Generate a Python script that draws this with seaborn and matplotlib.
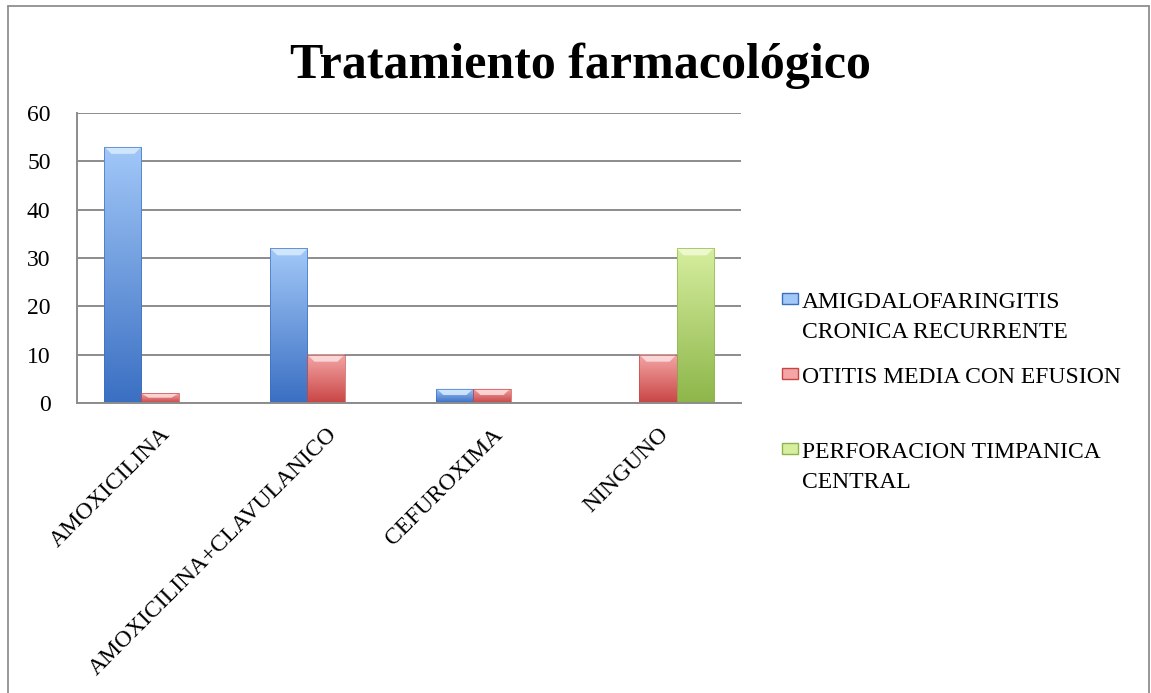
import numpy as np
import pandas as pd
import matplotlib
matplotlib.use("Agg")
import matplotlib.pyplot as plt
import matplotlib.colors as mcolors
from matplotlib.colors import LinearSegmentedColormap
from matplotlib.patches import Polygon, Rectangle
from matplotlib.lines import Line2D
import seaborn as sns

# Datos
categorias = ["AMOXICILINA", "AMOXICILINA+CLAVULANICO", "CEFUROXIMA", "NINGUNO"]
diagnosticos = ["AMIGDALOFARINGITIS\nCRONICA RECURRENTE",
                "OTITIS MEDIA CON EFUSION",
                "PERFORACION TIMPANICA\nCENTRAL"]
amigdalo = [53, 32, 3, 0]
otitis = [2, 10, 3, 10]
perforacion = [0, 0, 0, 32]
yticks = [0, 10, 20, 30, 40, 50, 60]

colores = ["#4f81bd", "#c0504d", "#9bbb59"]
# (abajo, arriba, bisel) para el degradado de cada serie
degradados = {
    "#4f81bd": ("#3a6fc2", "#a2c8f8", "#d8ecff"),
    "#c0504d": ("#c94545", "#f4a6a6", "#fde0e0"),
    "#9bbb59": ("#8db64a", "#d6ee9e", "#f2fbd9"),
}

W, H = 1151, 693


def px(x, y):
    """pixel (desde arriba-izquierda) -> fracción de figura"""
    return x / W, 1 - y / H


df = pd.DataFrame({
    "tratamiento": categorias * 3,
    "casos": amigdalo + otitis + perforacion,
    "diagnostico": [d for d in diagnosticos for _ in categorias],
})

sns.set_theme(style="white")
plt.rcParams["font.family"] = ["Liberation Serif", "DejaVu Serif"]

fig = plt.figure(figsize=(W / 100, H / 100), dpi=100)
x0, y0 = px(77, 403)
x1, y1 = px(741, 113)
ax = fig.add_axes([x0, y0, x1 - x0, y1 - y0])

sns.barplot(data=df, x="tratamiento", y="casos", hue="diagnostico",
            palette=colores, width=0.67, saturation=1, legend=False,
            linewidth=0, ax=ax, zorder=3)

ax.set_xlim(-0.5, 3.5)
ax.set_ylim(0, 60)

# degradado + bisel tipo Excel
px_x = (741 - 77) / 4.0
px_y = (403 - 113) / 60.0
bevel_dx = 7 / px_x
bevel_dy = 7 / px_y
grad = np.linspace(0, 1, 256).reshape(-1, 1)
for patch in list(ax.patches):
    h = patch.get_height()
    if h <= 0:
        continue
    bx, by, bw = patch.get_x(), patch.get_y(), patch.get_width()
    key = mcolors.to_hex(patch.get_facecolor())
    bottom, top, shine = degradados[key]
    cmap = LinearSegmentedColormap.from_list("g", [bottom, top])
    im = ax.imshow(grad, extent=[bx, bx + bw, by, by + h], origin="lower",
                   cmap=cmap, aspect="auto", zorder=3.5)
    im.set_clip_path(patch)
    dy = min(bevel_dy, h * 0.45)
    ax.add_patch(Polygon([(bx, by + h), (bx + bw, by + h),
                          (bx + bw - bevel_dx, by + h - dy),
                          (bx + bevel_dx, by + h - dy)],
                         closed=True, facecolor=shine, edgecolor="none",
                         alpha=0.85, zorder=3.6))
    ax.add_patch(Rectangle((bx, by), bw, h, fill=False,
                           edgecolor=bottom, linewidth=0.6, alpha=0.8, zorder=3.7))

ax.set_xlim(-0.5, 3.5)
ax.set_ylim(0, 60)

ax.set_axisbelow(True)
ax.yaxis.grid(True, color="#8c8c8c", linewidth=1.4)
ax.xaxis.grid(False)
for s in ["top", "right"]:
    ax.spines[s].set_visible(False)
for s in ["left", "bottom"]:
    ax.spines[s].set_color("#8c8c8c")
    ax.spines[s].set_linewidth(1.4)
    ax.spines[s].set_zorder(5)

ax.set_yticks(yticks)
ax.set_yticklabels([str(v) for v in yticks])
ax.tick_params(axis="y", length=0, pad=19, labelsize=17, labelcolor="black")
ax.tick_params(axis="x", length=0, pad=15, labelsize=17, labelcolor="black")
ax.set_xticks(range(len(categorias)))
ax.set_xticklabels(categorias, rotation=45, ha="right", va="top",
                   rotation_mode="anchor")
ax.set_xlabel("")
ax.set_ylabel("")

# titulo
tx, ty = px(580, 78)
fig.text(tx, ty, "Tratamiento farmacológico", ha="center", va="baseline",
         fontsize=36, fontweight="bold", color="black")

# leyenda manual (marcador alineado con la primera línea)
leyenda_y = [308, 383, 458]
interlinea = 30
for color, nombre, base in zip(colores, diagnosticos, leyenda_y):
    mx, my = px(782, base - 4)
    mw = 16 / W
    mh = 11 / H
    fig.patches.append(Rectangle((mx, my), mw, mh, transform=fig.transFigure,
                                 facecolor=degradados[color][1],
                                 edgecolor=degradados[color][0], linewidth=1))
    for i, linea in enumerate(nombre.split("\n")):
        lx, ly = px(802, base + i * interlinea)
        fig.text(lx, ly, linea, ha="left", va="baseline", fontsize=17,
                 color="black")

# borde del área del gráfico
col_borde = "#8f8f8f"
fig.lines.append(Line2D([8 / W, 8 / W], [0, 1 - 6 / H], transform=fig.transFigure,
                        color=col_borde, linewidth=1.3))
fig.lines.append(Line2D([8 / W, 1149 / W], [1 - 6 / H, 1 - 6 / H],
                        transform=fig.transFigure, color=col_borde, linewidth=1.3))
fig.lines.append(Line2D([1149 / W, 1149 / W], [0, 1 - 6 / H],
                        transform=fig.transFigure, color=col_borde, linewidth=1.3))

fig.savefig("out.png", dpi=100)
plt.close(fig)
